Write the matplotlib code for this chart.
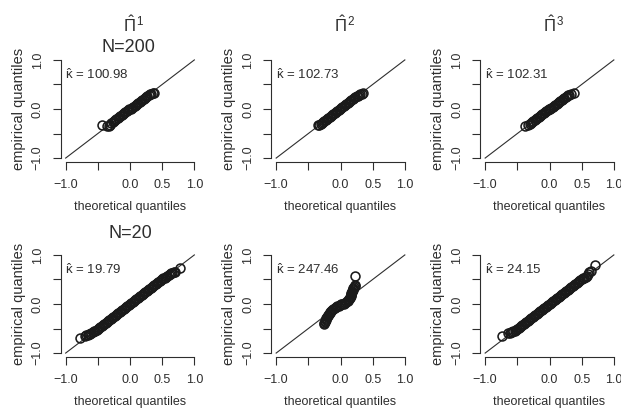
import matplotlib
matplotlib.use('Agg')
import matplotlib.pyplot as plt

plt.rcParams['font.family'] = ['Liberation Sans', 'DejaVu Sans']
plt.rcParams['mathtext.fontset'] = 'custom'
plt.rcParams['mathtext.rm'] = 'Liberation Sans'
plt.rcParams['mathtext.it'] = 'Liberation Sans'

INK = '#2e2e2e'

# QQ points: (theoretical, empirical) per panel
x_200_1 = [-0.44,
           -0.35, -0.33, -0.31, -0.29, -0.27, -0.25, -0.23, -0.21, -0.19, -0.17, -0.15, -0.13,
           -0.11, -0.09, -0.07, -0.05, -0.03, -0.01, 0.01, 0.03, 0.05, 0.07, 0.09, 0.11, 0.13,
           0.15, 0.17, 0.19, 0.21, 0.23, 0.25, 0.27, 0.29, 0.31, 0.33, 0.35, 0.37]
y_200_1 = [-0.33,
           -0.35, -0.34, -0.32, -0.29, -0.27, -0.25, -0.23, -0.21, -0.19, -0.17, -0.15, -0.13,
           -0.11, -0.09, -0.07, -0.05, -0.03, -0.01, 0.01, 0.03, 0.05, 0.07, 0.09, 0.11, 0.13,
           0.15, 0.17, 0.19, 0.21, 0.23, 0.25, 0.27, 0.28, 0.30, 0.31, 0.32, 0.33]

x_200_2 = [-0.35, -0.33, -0.31, -0.29, -0.27, -0.25, -0.23, -0.21, -0.19, -0.17, -0.15, -0.13,
           -0.11, -0.09, -0.07, -0.05, -0.03, -0.01, 0.01, 0.03, 0.05, 0.07, 0.09, 0.11, 0.13,
           0.15, 0.17, 0.19, 0.21, 0.23, 0.25, 0.27, 0.29, 0.31, 0.33, 0.35]
y_200_2 = [-0.33, -0.32, -0.30, -0.28, -0.26, -0.24, -0.22, -0.20, -0.18, -0.16, -0.14, -0.12,
           -0.10, -0.08, -0.06, -0.04, -0.02, 0.00, 0.02, 0.04, 0.06, 0.08, 0.10, 0.12, 0.14,
           0.16, 0.18, 0.20, 0.22, 0.24, 0.26, 0.27, 0.29, 0.30, 0.31, 0.32]

x_200_3 = [-0.38,
           -0.33, -0.31, -0.29, -0.27, -0.25, -0.23, -0.21, -0.19, -0.17, -0.15, -0.13, -0.11,
           -0.09, -0.07, -0.05, -0.03, -0.01, 0.01, 0.03, 0.05, 0.07, 0.09, 0.11, 0.13, 0.15,
           0.17, 0.19, 0.21, 0.23, 0.25, 0.27, 0.29, 0.31, 0.33,
           0.38]
y_200_3 = [-0.35,
           -0.32, -0.30, -0.29, -0.27, -0.25, -0.23, -0.21, -0.19, -0.17, -0.15, -0.13, -0.11,
           -0.09, -0.07, -0.05, -0.03, -0.01, 0.01, 0.03, 0.05, 0.07, 0.09, 0.11, 0.13, 0.15,
           0.17, 0.19, 0.21, 0.23, 0.25, 0.26, 0.28, 0.29, 0.30,
           0.33]

x_20_1 = [-0.78,
          -0.70, -0.68, -0.66, -0.64, -0.62, -0.60,
          -0.58, -0.56, -0.54, -0.52, -0.50, -0.48, -0.46, -0.44, -0.42, -0.40, -0.38, -0.36,
          -0.34, -0.32, -0.30, -0.28, -0.26, -0.24, -0.22, -0.20, -0.18, -0.16, -0.14, -0.12,
          -0.10, -0.08, -0.06, -0.04, -0.02, 0.00, 0.02, 0.04, 0.06, 0.08, 0.10, 0.12, 0.14,
          0.16, 0.18, 0.20, 0.22, 0.24, 0.26, 0.28, 0.30, 0.32, 0.34, 0.36, 0.38, 0.40, 0.42,
          0.44, 0.46, 0.48, 0.50, 0.52, 0.54, 0.56, 0.58, 0.60,
          0.62, 0.64, 0.66, 0.68, 0.70,
          0.77]
y_20_1 = [-0.69,
          -0.65, -0.64, -0.63, -0.62, -0.61, -0.60,
          -0.58, -0.56, -0.54, -0.52, -0.50, -0.48, -0.46, -0.44, -0.42, -0.40, -0.38, -0.36,
          -0.34, -0.32, -0.30, -0.28, -0.26, -0.24, -0.22, -0.20, -0.18, -0.16, -0.14, -0.12,
          -0.10, -0.08, -0.06, -0.04, -0.02, 0.00, 0.02, 0.04, 0.06, 0.08, 0.10, 0.12, 0.14,
          0.16, 0.18, 0.20, 0.22, 0.24, 0.26, 0.28, 0.30, 0.32, 0.34, 0.36, 0.38, 0.40, 0.42,
          0.44, 0.46, 0.48, 0.50, 0.52, 0.54, 0.56, 0.58, 0.60,
          0.61, 0.63, 0.64, 0.65, 0.66,
          0.73]

x_20_2 = [-0.25, -0.25, -0.24, -0.24, -0.23, -0.23, -0.22, -0.21, -0.20, -0.19,
          -0.18, -0.17, -0.16, -0.15, -0.13, -0.11, -0.09, -0.07, -0.05, -0.03,
          -0.01, 0.01, 0.03, 0.05, 0.07, 0.09, 0.11, 0.12, 0.13, 0.14,
          0.15, 0.16, 0.16, 0.17, 0.17, 0.18, 0.18, 0.19, 0.19, 0.20,
          0.21, 0.22, 0.22,
          0.22]
y_20_2 = [-0.41, -0.39, -0.37, -0.35, -0.33, -0.31, -0.29, -0.27, -0.25, -0.23,
          -0.21, -0.19, -0.17, -0.15, -0.13, -0.11, -0.09, -0.07, -0.05, -0.04,
          -0.02, -0.01, 0.00, 0.01, 0.03, 0.04, 0.06, 0.08, 0.10, 0.12,
          0.14, 0.17, 0.19, 0.21, 0.23, 0.25, 0.27, 0.29, 0.31, 0.33,
          0.35, 0.37, 0.39,
          0.58]

x_20_3 = [-0.74,
          -0.64, -0.62, -0.60,
          -0.58, -0.56, -0.54, -0.52, -0.50, -0.48, -0.46, -0.44, -0.42, -0.40, -0.38, -0.36,
          -0.34, -0.32, -0.30, -0.28, -0.26, -0.24, -0.22, -0.20, -0.18, -0.16, -0.14, -0.12,
          -0.10, -0.08, -0.06, -0.04, -0.02, 0.00, 0.02, 0.04, 0.06, 0.08, 0.10, 0.12, 0.14,
          0.16, 0.18, 0.20, 0.22, 0.24, 0.26, 0.28, 0.30, 0.32, 0.34, 0.36, 0.38, 0.40, 0.42,
          0.44, 0.46, 0.48, 0.50, 0.52, 0.54, 0.56, 0.58,
          0.60, 0.62, 0.64,
          0.70]
y_20_3 = [-0.65,
          -0.60, -0.59, -0.58,
          -0.58, -0.56, -0.54, -0.52, -0.50, -0.48, -0.46, -0.44, -0.42, -0.40, -0.38, -0.36,
          -0.34, -0.32, -0.30, -0.28, -0.26, -0.24, -0.22, -0.20, -0.18, -0.16, -0.14, -0.12,
          -0.10, -0.08, -0.06, -0.04, -0.02, 0.00, 0.02, 0.04, 0.06, 0.08, 0.10, 0.12, 0.14,
          0.16, 0.18, 0.20, 0.22, 0.24, 0.26, 0.28, 0.30, 0.32, 0.34, 0.36, 0.38, 0.40, 0.42,
          0.44, 0.46, 0.48, 0.50, 0.52, 0.54, 0.56, 0.58,
          0.62, 0.65, 0.68,
          0.80]

kappas = [['100.98', '102.73', '102.31'], ['19.79', '247.46', '24.15']]
row_titles = ['N=200', 'N=20']
tick_values = [-1.0, -0.5, 0.0, 0.5, 1.0]
x_tick_labels = ['\u22121.0', '', '0.0', '0.5', '1.0']
y_tick_labels = ['\u22121.0', '', '0.0', '', '1.0']

panels = [[(x_200_1, y_200_1), (x_200_2, y_200_2), (x_200_3, y_200_3)],
          [(x_20_1, y_20_1), (x_20_2, y_20_2), (x_20_3, y_20_3)]]

FW, FH = 621, 411
fig = plt.figure(figsize=(FW / 100, FH / 100), dpi=100)

lefts = [60.5, 271, 480]
tops = [56, 251]
W, H = 139, 106


def ftext(px, py, s, **kw):
    # place text using pixel coords measured from the top-left corner
    fig.text(px / FW, 1 - py / FH, s, ha='center', va='center', color=INK, **kw)


for r in range(2):
    for c in range(3):
        ax = fig.add_axes([lefts[c] / FW, 1 - (tops[r] + H) / FH, W / FW, H / FH])
        xs, ys = panels[r][c]
        ax.plot([-1, 1], [-1, 1], color=INK, lw=0.8)
        ax.plot(xs, ys, 'o', mfc='none', mec='#1a1a1a', ms=6.4, mew=1.15)
        ax.set_xlim(-1.08, 1.08)
        ax.set_ylim(-1.08, 1.08)
        for side in ['top', 'right']:
            ax.spines[side].set_visible(False)
        for side in ['left', 'bottom']:
            ax.spines[side].set_bounds(-1, 1)
            ax.spines[side].set_color(INK)
            ax.spines[side].set_linewidth(0.8)
        ax.set_xticks(tick_values)
        ax.set_xticklabels(x_tick_labels, fontsize=9, color=INK)
        ax.set_yticks(tick_values)
        ax.set_yticklabels(y_tick_labels, fontsize=9, color=INK, rotation=90, va='center')
        ax.tick_params(axis='both', length=5.5, width=0.8, color=INK, pad=6.5)
        ax.patch.set_alpha(0)
        ax.text(0.5, -0.425, 'theoretical quantiles', transform=ax.transAxes,
                ha='center', va='center', fontsize=9, color=INK)
        ax.text(-0.30, 0.5, 'empirical quantiles', transform=ax.transAxes, rotation=90,
                ha='center', va='center', fontsize=10.5, color=INK)
        # kappa-hat annotation
        ax.text(-1.01, 0.70, r'$\hat{\kappa}$ = ' + kappas[r][c], ha='left', va='center',
                fontsize=9.5, color=INK)

# column titles: Pi-hat with superscript
for c in range(3):
    cx = lefts[c] + W / 2 + 4
    ftext(cx, 25, r'$\hat{\Pi}^{\,' + str(c + 1) + '}$', fontsize=12)

ftext(lefts[0] + W / 2 - 2, 47, row_titles[0], fontsize=13)
ftext(lefts[0] + W / 2, 233, row_titles[1], fontsize=13)

fig.savefig('out.png', dpi=100, facecolor='white')
